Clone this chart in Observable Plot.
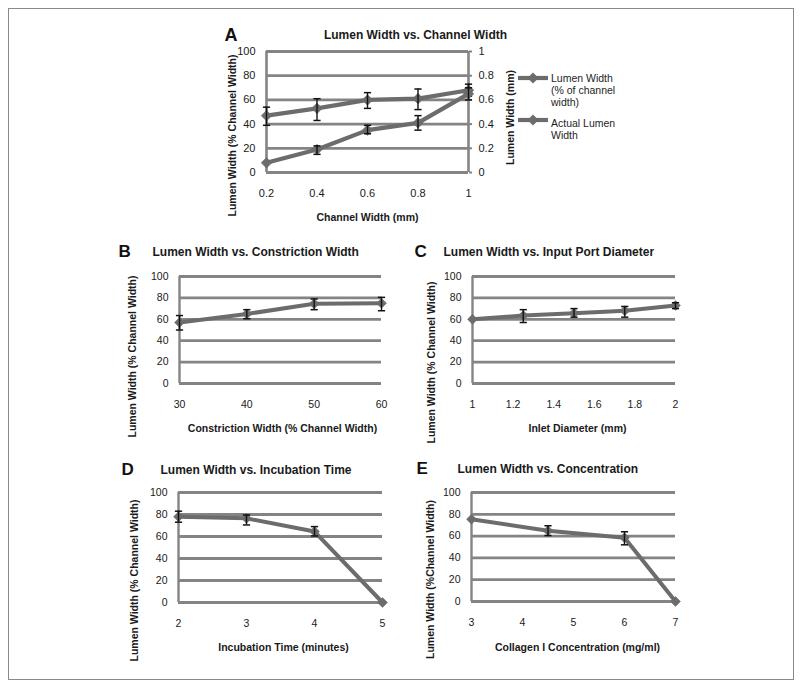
<!DOCTYPE html>
<html>
<head>
<meta charset="utf-8">
<script src="https://cdn.jsdelivr.net/npm/d3@7"></script>
<script src="https://cdn.jsdelivr.net/npm/@observablehq/plot@0.6"></script>
<style>
  body { margin: 0; background: #fff; }
  #page { position: relative; width: 800px; height: 684px; background: #fff; overflow: hidden;
          font-family: "Liberation Sans", Arial, sans-serif; color: #1e1e1e; }
  #page svg { position: absolute; left: 0; top: 0; }
  #frame { position: absolute; left: 8px; top: 8px; width: 784px; height: 670px; border: 1px solid #8a8a8a; }
  .legtxt { position: absolute; font-size: 10.5px; line-height: 12px; white-space: nowrap; color: #1e1e1e; }
  .legsw { position: absolute; }
</style>
</head>
<body>
<div id="page"><div id="frame"></div></div>
<script>
// ---------------- data ----------------
// Panel A
const channelWidth = [0.2, 0.4, 0.6, 0.8, 1.0];
const lumenPct     = [47, 53, 60, 61, 68];
const lumenPctLo   = [39, 43, 53, 52, 63];
const lumenPctHi   = [54, 61, 66, 69, 73];
const lumenMm      = [0.08, 0.19, 0.35, 0.41, 0.65];
const lumenMmLo    = [null, 0.15, 0.32, 0.35, 0.60];
const lumenMmHi    = [null, 0.22, 0.39, 0.47, 0.70];
const aXTicks = [0.2, 0.4, 0.6, 0.8, 1];
const aYTicks = [0, 20, 40, 60, 80, 100];
const aY2Ticks = [0, 0.2, 0.4, 0.6, 0.8, 1];
const legendLines = [["Lumen Width", "(% of channel", "width)"], ["Actual Lumen", "Width"]];

// Panel B
const constriction = [30, 40, 50, 60];
const bVal = [57, 65, 74.5, 75];
const bLo  = [50, 60.5, 69, 68];
const bHi  = [63.5, 69, 79, 80.5];
const bXTicks = [30, 40, 50, 60];

// Panel C
const inlet = [1, 1.25, 1.5, 1.75, 2];
const cVal = [60, 63.5, 65.7, 68, 73];
const cLo  = [null, 57, 62, 62, 70];
const cHi  = [null, 69, 70, 72, 75.5];
const cXTicks = [1, 1.2, 1.4, 1.6, 1.8, 2];

// Panel D
const incubation = [2, 3, 4, 5];
const dVal = [78, 76.5, 64.5, 0];
const dLo  = [73, 70.5, 60.5, null];
const dHi  = [83, 79.5, 69, null];
const dXTicks = [2, 3, 4, 5];

// Panel E
const concentration = [3, 4.5, 6, 7];
const eVal = [75.5, 65, 58.5, 0];
const eLo  = [null, 60.5, 52, null];
const eHi  = [null, 69.5, 64, null];
const eXTicks = [3, 4, 5, 6, 7];

const pctTicks = [0, 20, 40, 60, 80, 100];

// ---------------- styling ----------------
const FONT = "Liberation Sans, Arial, sans-serif";
const LINE = "#6c6c6c", GRID = "#848484", ERR = "#121212", TXT = "#1a1a1a";
const W = 800, H = 684;
const fmt = d => `${d}`;
const capSymbol = { draw(ctx, size) { const w = Math.sqrt(size / Math.PI); ctx.moveTo(-w, 0); ctx.lineTo(w, 0); } };

function seriesMarks(xs, ys, lo, hi, lw = 4.2, r = 4.8) {
  const rows = xs.map((x, i) => ({x, y: ys[i], lo: lo[i], hi: hi[i]}));
  const err = rows.filter(d => d.lo != null && d.hi != null);
  return [
    Plot.line(rows, {x: "x", y: "y", stroke: LINE, strokeWidth: lw, strokeLinejoin: "round"}),
    Plot.dot(rows, {x: "x", y: "y", symbol: "diamond2", r, fill: LINE, stroke: LINE, strokeWidth: 0.5}),
    Plot.ruleX(err, {x: "x", y1: "lo", y2: "hi", stroke: ERR, strokeWidth: 1.4}),
    Plot.dot(err, {x: "x", y: "lo", symbol: capSymbol, r: 3.6, stroke: ERR, fill: "none", strokeWidth: 1.5}),
    Plot.dot(err, {x: "x", y: "hi", symbol: capSymbol, r: 3.6, stroke: ERR, fill: "none", strokeWidth: 1.5})
  ];
}

// text placed at a page position, relative to the frame's top-left corner
function label(text, px, py, m, opts = {}) {
  return Plot.text([text], {
    frameAnchor: "top-left", textAnchor: "middle", lineAnchor: "middle",
    dx: px - m.left, dy: py - m.top, fill: TXT, ...opts
  });
}

function draw(m, xDomain, yDomain, marks, xOpts = {}) {
  const svg = Plot.plot({
    width: W, height: H,
    marginLeft: m.left, marginRight: W - m.right, marginTop: m.top, marginBottom: H - m.bottom,
    x: {domain: xDomain, label: null, ...xOpts},
    y: {domain: yDomain, label: null},
    style: {background: "transparent", fontFamily: FONT, color: TXT, overflow: "visible"},
    marks
  });
  document.getElementById("page").appendChild(svg);
  return svg;
}

function stdPanel(m, xs, vals, lo, hi, xTicks, letter, letterX, title, titleX, titleY, yTitle, yTitlePos, xTitle, xTitlePos) {
  draw(m, [xTicks[0], xTicks[xTicks.length - 1]], [0, 100], [
    Plot.gridY({ticks: pctTicks, stroke: GRID, strokeOpacity: 1, strokeWidth: 2.8}),
    Plot.ruleX([xTicks[0]], {stroke: GRID, strokeWidth: 2.4}),
    Plot.axisY({ticks: pctTicks, tickSize: 0, tickPadding: 11, fontSize: 10.5, label: null}),
    Plot.axisX({ticks: xTicks, tickFormat: fmt, tickSize: 0, tickPadding: 17, fontSize: 10.5, label: null}),
    ...seriesMarks(xs, vals, lo, hi, 4, 4.5),
    label(letter, letterX, titleY - 1, m, {textAnchor: "start", fontSize: 17, fontWeight: "bold", fill: "#111"}),
    label(title, titleX, titleY, m, {textAnchor: "start", fontSize: 12, fontWeight: "bold"}),
    label(yTitle, yTitlePos[0], yTitlePos[1], m, {rotate: -90, fontSize: 10.5, fontWeight: "bold"}),
    label(xTitle, xTitlePos[0], xTitlePos[1], m, {fontSize: 10.5, fontWeight: "bold"})
  ]);
}

// ---------------- Panel A ----------------
const mA = {left: 266, right: 468, top: 51, bottom: 172};
draw(mA, [0.2, 1], [0, 100], [
  Plot.gridY({ticks: aYTicks, stroke: GRID, strokeOpacity: 1, strokeWidth: 2.8}),
  Plot.ruleX([0.2, 1], {stroke: GRID, strokeWidth: 2.6}),
  Plot.axisY({ticks: aYTicks, tickSize: 0, tickPadding: 11, fontSize: 11, label: null}),
  Plot.axisX({ticks: aXTicks, tickFormat: fmt, tickSize: 0, tickPadding: 17, fontSize: 11, label: null}),
  ...seriesMarks(channelWidth, lumenPct, lumenPctLo, lumenPctHi),
  label("A", 224, 35, mA, {textAnchor: "start", fontSize: 18, fontWeight: "bold", fill: "#111"}),
  label("Lumen Width vs. Channel Width", 415, 35, mA, {fontSize: 12, fontWeight: "bold"}),
  label("Lumen Width (% Channel Width)", 232, 135, mA, {rotate: -90, fontSize: 10.5, fontWeight: "bold"}),
  label("Lumen Width (mm)", 510, 117, mA, {rotate: -90, fontSize: 10.5, fontWeight: "bold"}),
  label("Channel Width (mm)", 367, 217, mA, {fontSize: 10.5, fontWeight: "bold"})
]);
draw(mA, [0.2, 1], [0, 1], [
  Plot.axisY({anchor: "right", ticks: aY2Ticks, tickFormat: fmt, tickSize: 3, tickPadding: 7, fontSize: 11, label: null, stroke: GRID, strokeWidth: 2}),
  ...seriesMarks(channelWidth, lumenMm, lumenMmLo, lumenMmHi)
], {axis: null});

// legend for panel A
(function () {
  const page = document.getElementById("page");
  const swY = [78, 120], txtTop = [72, 117];
  legendLines.forEach((lines, i) => {
    const sw = document.createElementNS("http://www.w3.org/2000/svg", "svg");
    sw.setAttribute("width", 32); sw.setAttribute("height", 14);
    sw.setAttribute("class", "legsw");
    sw.style.left = "517px"; sw.style.top = (swY[i] - 7) + "px";
    sw.innerHTML = `<line x1="1" x2="31" y1="7" y2="7" stroke="${LINE}" stroke-width="4.2"/>` +
      `<path d="M16,1.5 L21.5,7 L16,12.5 L10.5,7 Z" fill="${LINE}"/>`;
    page.appendChild(sw);
    const t = document.createElement("div");
    t.className = "legtxt";
    t.style.left = "551px"; t.style.top = txtTop[i] + "px";
    t.innerHTML = lines.join("<br>");
    page.appendChild(t);
  });
})();

// ---------------- Panels B–E ----------------
stdPanel({left: 179, right: 381, top: 276, bottom: 383}, constriction, bVal, bLo, bHi, bXTicks,
  "B", 118, "Lumen Width vs. Constriction Width", 152, 252,
  "Lumen Width (% Channel Width)", [132, 356],
  "Constriction Width (% Channel Width)", [282, 428]);

stdPanel({left: 472, right: 675, top: 276, bottom: 383}, inlet, cVal, cLo, cHi, cXTicks,
  "C", 414, "Lumen Width vs. Input Port Diameter", 443, 252,
  "Lumen Width (% Channel Width)", [431, 362],
  "Inlet Diameter (mm)", [577, 428]);

stdPanel({left: 178, right: 382, top: 492, bottom: 602}, incubation, dVal, dLo, dHi, dXTicks,
  "D", 121, "Lumen Width vs. Incubation Time", 160, 470,
  "Lumen Width (% Channel Width)", [134, 580],
  "Incubation Time (minutes)", [283, 647]);

stdPanel({left: 471, right: 675, top: 492, bottom: 601}, concentration, eVal, eLo, eHi, eXTicks,
  "E", 416, "Lumen Width vs. Concentration", 457, 469,
  "Lumen Width (%Channel Width)", [430, 579],
  "Collagen I Concentration (mg/ml)", [577, 647]);
</script>
</body>
</html>
